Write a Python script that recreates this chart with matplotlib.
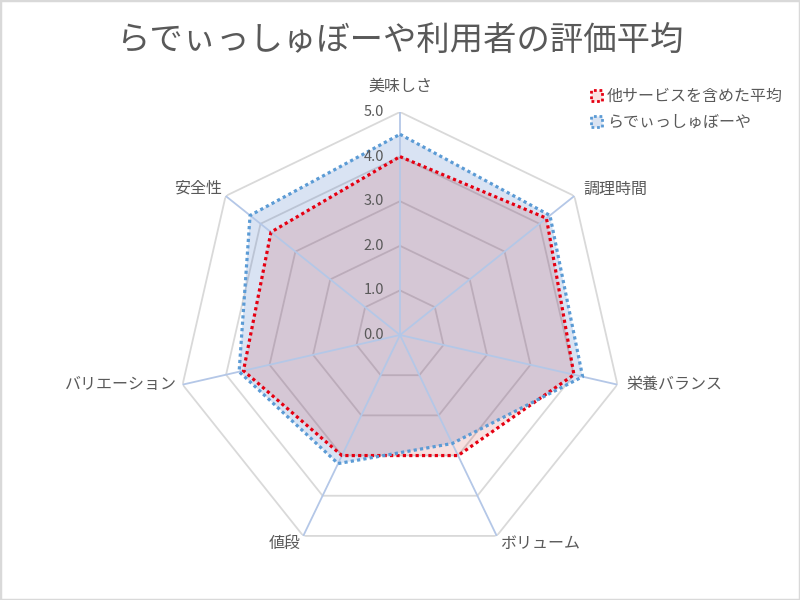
import numpy as np
import matplotlib.pyplot as plt
import matplotlib.patches as mpatches

plt.rcParams['font.family'] = ['Noto Sans CJK JP', 'DejaVu Sans']

# データ
title = "らでぃっしゅぼーや利用者の評価平均"
categories = ["美味しさ", "調理時間", "栄養バランス", "ボリューム", "値段", "バリエーション", "安全性"]
series_names = ["他サービスを含めた平均", "らでぃっしゅぼーや"]
avg_values = [4.0, 4.2, 4.0, 3.0, 3.0, 3.6, 3.7]
radish_values = [4.5, 4.3, 4.2, 2.7, 3.2, 3.7, 4.3]
rticks = [0, 1, 2, 3, 4, 5]

text_color = '#595959'
red = '#e60012'
blue = '#5b9bd5'
red_fill = (0.75, 0.0, 0.0, 0.12)
blue_fill = (0.27, 0.45, 0.77, 0.20)

n = len(categories)
angles = np.linspace(0, 2 * np.pi, n, endpoint=False)
closed = np.append(angles, angles[0])

fig = plt.figure(figsize=(8, 6), dpi=100)
ax = fig.add_axes([177 / 800, 42 / 600, 446 / 800, 446 / 600], projection='polar')
ax.set_theta_zero_location('N')
ax.set_theta_direction(-1)
ax.set_ylim(0, 5)
ax.set_axis_off()

# 目盛り線（多角形）とスポーク
for r in rticks[1:]:
    ax.plot(closed, [r] * (n + 1), color='#d9d9d9', lw=1.3, zorder=1)
for a in angles:
    ax.plot([a, a], [0, 5], color='#b4c7e7', lw=1.3, zorder=2.5)

# 系列
blue_closed = radish_values + radish_values[:1]
red_closed = avg_values + avg_values[:1]
ax.fill(closed, blue_closed, color=blue_fill, lw=0, zorder=2)
ax.fill(closed, red_closed, color=red_fill, lw=0, zorder=2)
ax.plot(closed, red_closed, color=red, lw=2.3, ls=(0, (1, 1)),
        dash_capstyle='butt', zorder=3)
ax.plot(closed, blue_closed, color=blue, lw=2.3, ls=(0, (1, 1)),
        dash_capstyle='butt', zorder=4)

# 目盛りラベル
for r in rticks:
    ax.annotate(f"{r:.1f}", xy=(0, r), xytext=(-16, 0), textcoords='offset pixels',
                ha='right', va='center', fontsize=10.5, color=text_color, zorder=5)

# 項目ラベル
offsets = [(0, 26, 'center'), (9, 7, 'left'), (9, 0, 'left'), (3, -8, 'left'),
           (-3, -8, 'right'), (-6, 0, 'right'), (-4, 8, 'right')]
for a, lab, (dx, dy, ha) in zip(angles, categories, offsets):
    ax.annotate(lab, xy=(a, 5), xytext=(dx, dy), textcoords='offset pixels',
                ha=ha, va='center', fontsize=11.5, color=text_color)

fig.text(0.5, 1 - 40 / 600, title, ha='center', va='center', fontsize=24, color=text_color)

handles = [
    mpatches.Patch(facecolor=(0.98, 0.88, 0.88), edgecolor=red, linestyle=(0, (1, 1)), linewidth=2),
    mpatches.Patch(facecolor=(0.85, 0.89, 0.95), edgecolor=blue, linestyle=(0, (1, 1)), linewidth=2),
]
leg = fig.legend(handles, series_names, loc='upper left', bbox_to_anchor=(583 / 800, 1 - 80 / 600),
                 frameon=False, fontsize=11.5, handlelength=0.7, handleheight=0.7,
                 handletextpad=0.3, labelspacing=0.55, borderpad=0)
for t in leg.get_texts():
    t.set_color(text_color)

fig.patches.append(mpatches.Rectangle((0, 0), 1, 1, transform=fig.transFigure, fill=False,
                                      edgecolor='#d9d9d9', lw=2.5))

fig.savefig("out.png", dpi=100)
